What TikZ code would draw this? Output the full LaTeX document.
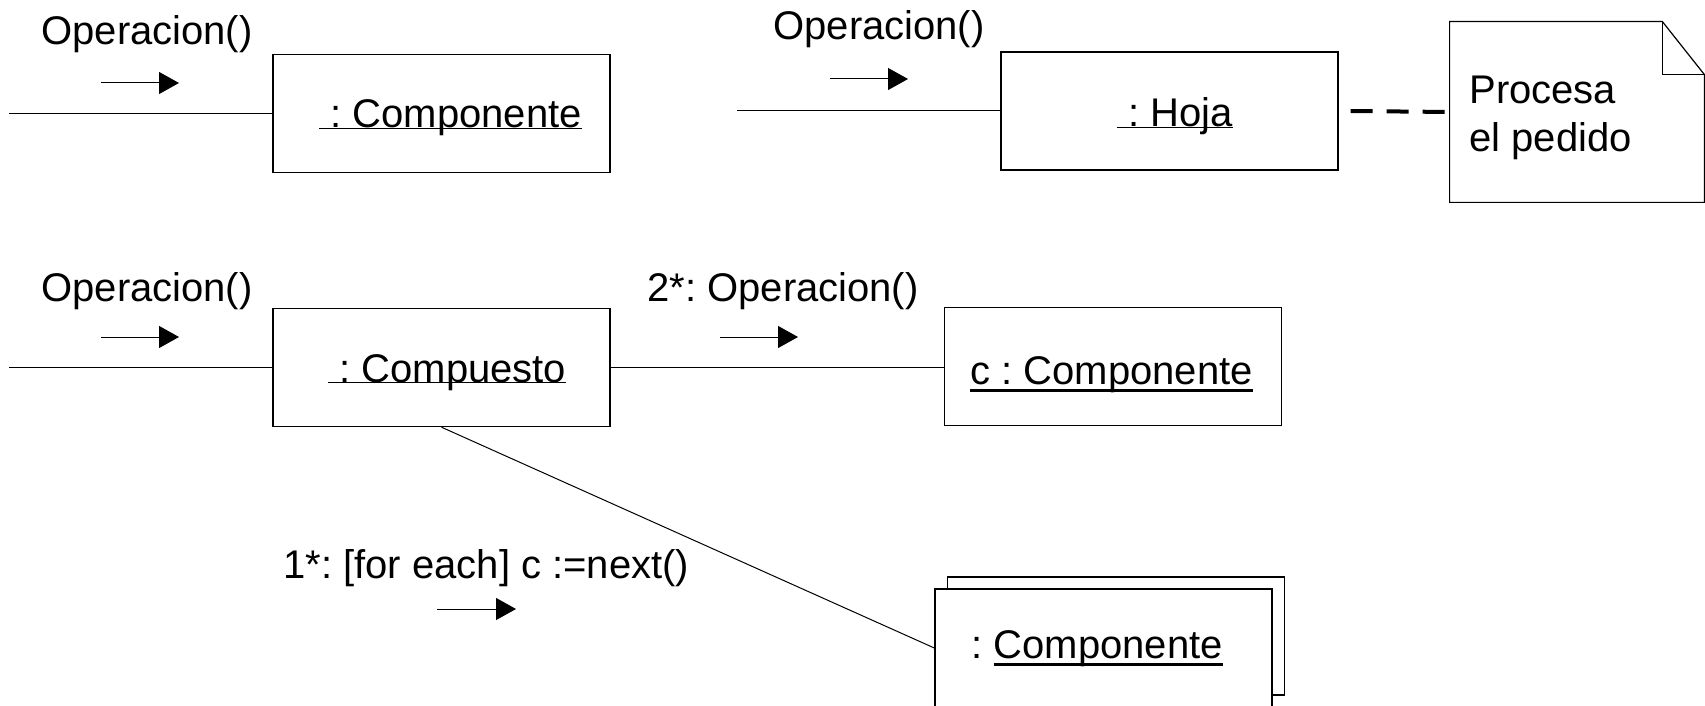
\documentclass[tikz,border=0pt]{standalone}
\usepackage{fontspec}
\setmainfont{Liberation Sans}
\usetikzlibrary{arrows.meta}
\frenchspacing
\newlength{\ulwd}
\newcommand{\thinul}[1]{\settowidth{\ulwd}{\ #1}\rlap{\rule[-0.5pt]{\ulwd}{0.5pt}}\ #1}
\newcommand{\thickul}[1]{\settowidth{\ulwd}{#1}\rlap{\rule[-4pt]{\ulwd}{1.5pt}}#1}

\begin{document}
\begin{tikzpicture}[
  x=0.5pt, y=-0.5pt,
  font=\fontsize{20pt}{24pt}\selectfont,
  obj/.style={draw, line width=0.7pt, fill=white, minimum width=168.5pt,
    minimum height=59pt, inner sep=0pt},
  txt/.style={anchor=base west, inner sep=0pt},
  link/.style={line width=0.5pt},
  msg/.style={line width=0.5pt, -{Triangle[length=10pt, width=11pt]}},
  notelink/.style={line width=2pt, dash pattern=on 11pt off 7pt},
]
\useasboundingbox (0,0) rectangle (1705,706);

% objects
\node[obj] (comp) at (441.5,113.5) {};
\node[obj] (hoja) at (1169.5,111) {};
\node[obj] (compu) at (441.5,367.5) {};
\node[obj] (compc) at (1113,366.5) {};
\node[obj] (multib) at (1116,636) {};
\node[obj] (multi) at (1103.5,648) {};

\node[txt] (tcomp) at (319,128) {\thinul{: Componente}};
\node[txt] (thoja) at (1117,127) {\thinul{: Hoja}};
\node[txt] (tcompu) at (328,382) {\thinul{: Compuesto}};
\node[txt] (tcompc) at (970,384) {\thickul{c : Componente}};
\node[txt] (tmulti) at (971,658) {: \thickul{Componente}};

% note
\node[minimum width=127pt, minimum height=90pt, inner sep=0pt] (note) at (1577,112) {};
\draw[line width=0.6pt] (note.north west) -- ([xshift=-21pt]note.north east)
  -- ([yshift=-26.5pt]note.north east) -- (note.south east) -- (note.south west) -- cycle;
\draw[line width=0.6pt] ([xshift=-21pt]note.north east) |- ([yshift=-26.5pt]note.north east);
\node[txt] (noteA) at (1469,104) {Procesa};
\node[txt] (noteB) at (1469,152) {el pedido};

% links
\coordinate (inA) at (9,113.5);
\coordinate (inB) at (737,111);
\coordinate (inC) at (9,367.5);
\draw[link] (inA) -- (comp.west);
\draw[link] (inB) -- (hoja.west);
\draw[notelink] ([xshift=6pt]hoja.east) -- (note.west);
\draw[link] (inC) -- (compu.west);
\draw[link] (compu.east) -- (compu.east -| compc.west);
\draw[link] (compu.south) -- (multi.west);

% messages
\node[txt] (lA) at (41,45) {Operacion()};
\node[txt] (lB) at (773,40) {Operacion()};
\node[txt] (lC) at (41,301) {Operacion()};
\node[txt] (lD) at (647,301) {2*: Operacion()};
\node[txt] (lE) at (283,578) {1*: [for each] c :=next()};
\coordinate (mA0) at (101,83);  \coordinate (mA1) at (179,83);
\coordinate (mB0) at (830,79);  \coordinate (mB1) at (908,79);
\coordinate (mC0) at (101,337); \coordinate (mC1) at (179,337);
\coordinate (mD0) at (720,337); \coordinate (mD1) at (798,337);
\coordinate (mE0) at (437,609); \coordinate (mE1) at (516,609);
\draw[msg] (mA0) -- (mA1);
\draw[msg] (mB0) -- (mB1);
\draw[msg] (mC0) -- (mC1);
\draw[msg] (mD0) -- (mD1);
\draw[msg] (mE0) -- (mE1);
\end{tikzpicture}
\end{document}
